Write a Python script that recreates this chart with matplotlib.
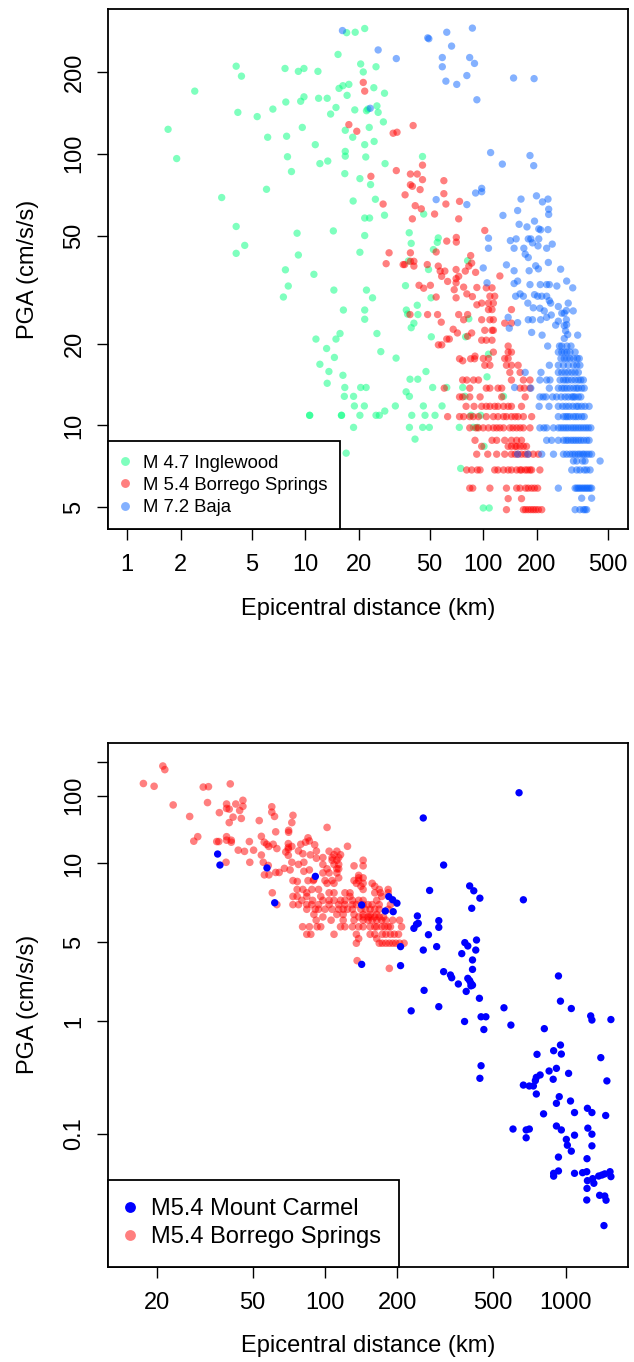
import matplotlib
matplotlib.use("Agg")
import matplotlib.pyplot as plt
from matplotlib.lines import Line2D
from matplotlib.ticker import FixedLocator, FixedFormatter, NullLocator

plt.rcParams['font.family'] = ['Liberation Sans', 'DejaVu Sans']

# ---------------- data: top panel ----------------
# M 4.7 Inglewood (epicentral distance km, PGA cm/s/s)
inglewood = [
    (1.70, 123), (1.90, 96), (2.40, 170), (3.40, 69), (4.10, 210), (4.39, 193), (4.19, 142), (4.10, 54), (4.58, 46), (4.10, 43),
    (5.38, 137), (6.07, 74), (6.16, 115), (6.59, 146), (7.71, 206), (7.79, 155), (7.87, 116), (7.96, 97.5), (8.38, 86), (9.01, 51),
    (9.16, 42.4), (9.16, 201), (9.85, 206), (9.44, 156), (9.85, 162), (9.64, 125), (11.4, 108), (11.8, 201), (11.9, 160), (12.1, 92),
    (13.4, 94), (13.3, 160), (13.9, 140), (14.9, 148), (14.4, 52), (15.3, 232), (15.5, 174), (16.3, 178), (17.6, 180), (17.2, 164),
    (16.8, 122), (16.8, 102), (16.8, 98), (16.7, 84.5), (17.1, 279), (19.1, 280), (21.6, 289), (18.5, 115), (19.0, 145), (20.5, 214),
    (21.2, 200), (20.3, 81), (18.6, 67), (20.3, 43.4), (21.6, 108), (21.9, 97.3), (21.6, 58), (21.6, 50), (22.1, 144), (22.5, 146),
    (22.9, 125), (23.3, 77), (23.0, 58), (24.3, 175), (24.4, 111), (24.8, 68), (25.0, 209), (25.3, 150), (25.7, 142), (27.5, 131),
    (27.9, 167), (28.1, 92), (27.9, 59.4), (45.6, 97.7), (38.4, 51.2), (39.4, 46.8), (46.3, 60), (55.9, 49), (55.2, 47.2), (52.5, 44.4),
    (81.7, 40.4), (38.0, 40.3), (49.3, 37.5), (50.9, 29.5), (36.6, 32.7), (11.5, 20.8), (14.9, 20.8), (15.7, 21.8), (25.3, 21.8), (16.4, 26.6),
    (21.6, 26.6), (21.6, 24.6), (22.1, 31.5), (23.9, 29.5), (14.5, 31.5), (11.2, 36.0), (8.04, 32.6), (7.55, 29.7), (7.75, 37.4), (39.4, 22.9),
    (40.8, 23.8), (42.6, 27.7), (37.0, 26.6), (37.6, 25.7), (43.0, 25.6), (51.1, 21.2), (79.6, 21.2), (83.0, 24.7),
    (13.2, 19.2), (14.6, 17.8), (12.1, 16.8), (13.6, 15.8), (13.3, 14.3), (10.6, 10.9), (10.6, 10.9),
    (26.6, 18.7), (32.4, 17.7), (47.7, 15.8), (38.8, 14.8), (42.9, 14.8), (52.0, 13.8), (62.4, 13.8), (36.9, 13.3), (38.5, 12.8), (16.7, 13.8),
    (20.5, 13.8), (22.0, 13.8), (18.7, 12.8), (16.6, 12.8), (18.9, 11.8), (21.5, 11.8), (32.1, 11.8), (46.1, 11.8), (58.7, 11.8), (39.7, 10.9),
    (47.1, 10.9), (53.6, 10.9), (28.0, 11.3), (25.0, 10.9), (26.1, 10.9), (16.0, 10.9), (16.0, 10.9), (20.3, 10.9), (18.7, 9.84), (38.5, 9.84),
    (45.7, 9.84), (49.8, 9.84), (73.4, 9.84), (41.4, 8.91), (101, 8.38), (17.0, 7.91), (74.7, 6.95), (100, 4.97), (108, 4.97), (88.0, 9.84),
    (92.7, 9.84), (85.4, 10.9), (96.8, 10.9), (79.0, 12.8), (130, 12.8), (76.7, 13.8), (16.3, 15.3), (105, 15.1), (107, 18.3),
]

# M 5.4 Borrego Springs: scattered stations
borrego_points = [
    (21.2, 183), (21.6, 170), (17.6, 128), (19.5, 121), (31.2, 119), (32.8, 120), (40.4, 127), (23.4, 82.6), (32.5, 86.7), (39.0, 84.2),
    (42.6, 84.2), (45.6, 90.8), (45.6, 80.3), (39.0, 76.9), (40.0, 75.9), (44.2, 73.8), (36.4, 70.6), (27.4, 65.3), (41.5, 64.4), (44.9, 62.7),
    (40.0, 57.6), (53.3, 60.0), (60.1, 79.6), (60.1, 71.3), (61.7, 65.3), (73.6, 66.8), (72.8, 57.6), (62.4, 47.7), (70.6, 49.2), (70.6, 47.3),
    (29.6, 43.2), (28.5, 39.4), (35.5, 39.1), (36.2, 39.1), (39.0, 43.2), (39.0, 40.2), (40.8, 40.2), (40.8, 38.6), (48.5, 39.1), (54.4, 43.5),
    (55.9, 38.6), (57.3, 37.0), (60.9, 37.0), (58.4, 35.4), (70.4, 37.5), (70.4, 34.7), (72.8, 35.4), (79.3, 37.0), (85.0, 42.2), (86.1, 39.6),
    (83.0, 38.6), (90.6, 36.6), (63.1, 33.9), (70.4, 33.5), (68.7, 31.6), (50.5, 32.8), (43.6, 32.8), (46.3, 32.0), (54.4, 29.7), (70.4, 29.5),
    (77.6, 32.3), (80.9, 30.5), (92.1, 32.2), (86.9, 29.8), (92.1, 27.8),
    (38.8, 25.6), (48.7, 25.6), (55.4, 25.6), (72.8, 25.6), (81.7, 25.6), (77.6, 24.5), (58.1, 24.0), (67.8, 22.6), (71.6, 21.9), (86.1, 21.9),
    (81.7, 21.3), (62.4, 20.8), (64.5, 20.8), (56.0, 19.8), (58.5, 19.8), (89.9, 18.0), (73.6, 17.6), (85.0, 17.6), (89.4, 17.6), (76.7, 17.3),
    (98, 20.6), (104, 20.6), (112, 20.6), (102, 22.4), (112, 22.4), (114, 22.4), (132, 23.8), (144, 23.8), (98, 24.5), (109, 24.5),
    (114, 24.5), (107, 26.7), (112, 26.7), (144, 26.7), (98, 28.2), (107, 28.2), (114, 28.2), (109, 29.9), (116, 29.9), (112, 32.1),
    (104, 32.1), (124, 35.5), (102, 52.2), (136, 3.43), (185, 2.93),
]
# Borrego Springs: stations on the quantised PGA levels
borrego_levels = [4.9, 5.38, 5.88, 6.86, 7.84, 8.38, 8.82, 9.8, 10.78, 11.76, 12.74, 13.72, 14.7, 15.68, 16.66, 17.64, 18.62, 19.6]
borrego_level_km = [
    [135, 168, 173, 179, 185, 191, 197, 204, 213],
    [138, 164],
    [84, 87.3, 109, 135, 154, 161, 173, 179, 187, 194, 202],
    [80.7, 86.1, 92.7, 96, 116, 121, 130, 138, 144, 154, 161, 164, 172, 177, 183, 187, 208],
    [91.9, 106, 119, 132, 144, 151, 157, 164, 172, 179, 191, 204],
    [98, 138, 144, 151, 154, 161, 168, 175],
    [89.9, 112, 119, 132, 144, 154, 164],
    [84, 91.1, 94, 100, 107, 114, 119, 124, 130, 141, 147, 154, 161, 168, 183],
    [63.1, 73.6, 77.6, 84, 88, 94, 104, 114, 121, 130, 135, 144, 151, 157, 168, 187],
    [80.1, 88.8, 98, 104, 109, 116, 121, 130, 138, 144, 164],
    [73.6, 76.6, 84, 96, 127, 172],
    [60.4, 84, 104, 109, 121, 127, 161, 170, 183],
    [76.6, 80.9, 88.2, 94, 144, 168, 183],
    [141, 161],
    [102, 109, 135, 144, 157],
    [100, 107, 132, 138],
    [114, 138, 144],
    [138],
]

# M 7.2 Baja: scattered stations
baja_points = [
    (16.2, 284), (23.2, 147), (25.7, 241), (32.5, 224), (48.8, 267), (49.5, 265), (62.4, 280), (66.4, 249), (58.9, 226), (58.9, 209),
    (61.7, 185), (71.0, 180), (80.9, 194), (83.9, 226), (89.3, 215), (86.9, 290), (92.1, 158), (54.4, 67.8), (80.9, 65), (90.6, 71.7),
    (110, 101), (128, 91.6), (183, 98.5), (192, 90.4), (148, 190), (193, 189), (98, 74.6), (98, 72.5), (163, 68.1), (199, 70),
    (215, 66.5), (231, 68.1), (233, 62.5), (233, 59.8), (156, 61.8), (129, 59.3), (159, 55), (194, 56.5), (176, 53.8), (205, 52.9),
    (210, 52.5), (231, 52.6), (107, 48.9), (107, 44.9), (142, 47.9), (153, 48.6), (149, 44.9), (169, 44.9), (179, 48.6), (185, 48.6),
    (189, 47), (205, 48.6), (203, 45.8), (227, 44.9), (244, 46.5), (172, 42.7), (179, 41.5), (135, 39), (149, 37.1), (197, 38.7),
    (204, 37.7), (181, 37.1), (232, 39.8), (272, 37.6), (156, 34), (149, 33.3), (183, 33), (209, 33), (227, 33), (235, 33),
    (259, 32.6), (294, 34), (318, 32.1), (161, 30.5), (152, 29.9), (168, 29.9), (194, 30.3), (202, 29.9), (213, 29.9), (227, 29.9),
    (235, 28.8), (178, 28.2), (191, 27.1), (239, 28.2), (264, 27.4), (300, 28.2), (293, 26.5), (208, 27), (220, 26.4), (241, 25.5),
    (276, 25.9), (285, 25.9), (320, 26.4), (138, 25), (156, 23.9), (179, 24.5), (189, 24.5), (210, 24.5), (227, 25), (264, 24.2),
    (293, 24.5), (255, 23.4), (285, 23.3), (294, 23.5), (290, 22.3), (187, 22), (214, 21.5), (298, 21.6), (339, 21.5), (285, 20.9),
    (100, 38), (105, 33.5), (140, 22.8), (150, 13.8), (156, 7.84), (178, 7.84), (453, 7.4),
]
baja_levels = [4.9, 5.4, 5.88, 6.86, 7.4, 7.84, 8.82, 9.8, 10.78, 11.76, 12.74, 13.72, 14.7, 15.68, 16.66, 17.64, 18.62, 19.6]
baja_level_km = [
    [328, 349, 365, 373, 381],
    [357, 406],
    [264, 328, 335, 342, 349, 357, 365, 373, 381, 389, 398, 406],
    [314, 335, 349, 369, 381, 398],
    [321, 335, 361, 373],
    [213, 248, 282, 294, 307, 318, 328, 340, 349, 361, 369, 381, 393, 406],
    [227, 242, 264, 282, 292, 300, 311, 321, 331, 342, 353, 366, 381, 393],
    [208, 219, 227, 248, 264, 273, 282, 291, 300, 311, 321, 331, 342, 353, 365, 377, 389, 402],
    [264, 282, 291, 298, 307, 321, 331, 342, 357, 369],
    [206, 234, 264, 279, 291, 303, 318, 333, 342, 357, 373, 393],
    [208, 217, 225, 245, 258, 274, 288, 300, 314, 321, 328, 342, 353],
    [185, 235, 264, 276, 285, 295, 307, 321, 333, 342, 357, 369],
    [208, 227, 237, 270, 282, 291, 300, 314, 328, 342, 353, 365],
    [172, 211, 264, 276, 288, 300, 314, 328, 342],
    [235, 264, 282, 300, 321, 335, 349],
    [273, 285, 295, 307, 321, 337, 346],
    [264, 276, 285, 295, 307, 328],
    [230, 268, 276, 295, 311],
]

# ---------------- data: bottom panel ----------------
# M5.4 Mount Carmel (km, PGA)
carmel = [
    (35.8, 30.3), (36.6, 24.2), (57.4, 22.8), (61.8, 11.2), (91.2, 19.2), (142, 3.18), (142, 10.7), (178, 9.46), (184, 12.7), (191, 11.9),
    (199, 11.1), (192, 9.33), (206, 4.57), (206, 3.10), (234, 6.64), (240, 7.21), (244, 7.36), (242, 8.55), (228, 1.23), (256, 63.3),
    (256, 4.26), (258, 1.87), (269, 5.83), (272, 14.4), (291, 4.57), (297, 7.77), (297, 6.78), (297, 1.34), (311, 24.2), (311, 2.74),
    (332, 2.56), (336, 2.42), (358, 2.13), (370, 3.96), (381, 4.96), (386, 1.83), (380, 0.99), (392, 4.63), (392, 2.39), (399, 2.28),
    (404, 2.16), (410, 2.08), (404, 2.05), (399, 15.8), (415, 14.3), (407, 10.0), (410, 3.48), (410, 2.87), (423, 4.26), (426, 5.23),
    (440, 12.3), (438, 1.59), (445, 1.09), (466, 1.09), (457, 0.84), (554, 1.31), (592, 0.92), (640, 106), (667, 11.9), (815, 0.855),
    (933, 2.51), (951, 1.50), (1055, 1.29), (1270, 1.11), (1285, 1.02), (1541, 1.03),
    (951, 0.612), (891, 0.545), (959, 0.509), (760, 0.506), (1399, 0.473), (445, 0.401), (440, 0.310), (853, 0.360), (915, 0.380), (1028, 0.343),
    (887, 0.304), (1483, 0.294), (783, 0.332), (755, 0.316), (748, 0.296), (667, 0.270), (706, 0.265), (734, 0.265), (755, 0.225), (940, 0.213),
    (915, 0.186), (1047, 0.195), (1088, 0.154), (809, 0.150), (1231, 0.168), (1285, 0.154), (1466, 0.145), (604, 0.110), (685, 0.108), (706, 0.110),
    (685, 0.092), (915, 0.117), (959, 0.108), (1088, 0.097), (1006, 0.089), (1016, 0.079), (1236, 0.112), (1285, 0.099), (1285, 0.078), (1055, 0.070),
    (933, 0.062), (1226, 0.060), (891, 0.0445), (891, 0.042), (933, 0.0467), (1088, 0.0445), (1175, 0.0451), (1223, 0.046), (1231, 0.0383), (1294, 0.0399),
    (1309, 0.0363), (1371, 0.0421), (1415, 0.043), (1453, 0.044), (1528, 0.046), (1541, 0.0416), (1226, 0.0327), (1223, 0.0258), (1383, 0.0284), (1453, 0.028),
    (1471, 0.0257), (1442, 0.0153),
]

# axis ticks / labels
top_xticks = [1, 2, 5, 10, 20, 50, 100, 200, 500]
top_yticks = [5, 10, 20, 50, 100, 200]
bot_xticks = [20, 50, 100, 200, 500, 1000]
bot_yticks = [0.1, 1, 5, 25, 100, 200]
bot_yticklabels = ['0.1', '1', '5', '10', '100', '']

labels_top = ['M 4.7 Inglewood', 'M 5.4 Borrego Springs', 'M 7.2 Baja']
labels_bot = ['M5.4 Mount Carmel', 'M5.4 Borrego Springs']

col_green = '#00FF7F'
col_red = '#FF0000'
col_blue = '#0A64FF'
col_navy = '#0000FF'


def expand(points, levels, level_km):
    xs = [p[0] for p in points]
    ys = [p[1] for p in points]
    for lv, kms in zip(levels, level_km):
        xs.extend(kms)
        ys.extend([lv] * len(kms))
    return xs, ys


ing_x = [p[0] for p in inglewood]
ing_y = [p[1] for p in inglewood]
bor_x, bor_y = expand(borrego_points, borrego_levels, borrego_level_km)
baj_x, baj_y = expand(baja_points, baja_levels, baja_level_km)
car_x = [p[0] for p in carmel]
car_y = [p[1] for p in carmel]

FS = 17
fig = plt.figure(figsize=(6.34, 13.62), dpi=100)
ax1 = fig.add_axes([0.1699, 0.6114, 0.8203, 0.3820])
ax2 = fig.add_axes([0.1699, 0.0700, 0.8203, 0.3847])

S = 28
ax1.scatter(ing_x, ing_y, s=S, c=col_green, alpha=0.5, edgecolors='none', zorder=2)
ax1.scatter(bor_x, bor_y, s=S, c=col_red, alpha=0.5, edgecolors='none', zorder=3)
ax1.scatter(baj_x, baj_y, s=S, c=col_blue, alpha=0.5, edgecolors='none', zorder=4)

ax2.scatter(bor_x, bor_y, s=30, c=col_red, alpha=0.5, edgecolors='none', zorder=2)
ax2.scatter(car_x, car_y, s=28, c=col_navy, edgecolors='none', zorder=3)

for ax in (ax1, ax2):
    ax.set_xscale('log')
    ax.set_yscale('log')
    for sp in ax.spines.values():
        sp.set_linewidth(1.3)
    ax.xaxis.set_minor_locator(NullLocator())
    ax.yaxis.set_minor_locator(NullLocator())
    ax.tick_params(axis='both', direction='out', length=8, width=1.0, labelsize=FS)
    ax.tick_params(axis='x', pad=10)
    ax.tick_params(axis='y', pad=8)

ax1.set_xlim(0.779, 648)
ax1.set_ylim(4.15, 341)
ax2.set_xlim(12.51, 1811)
ax2.set_ylim(0.00661, 294.7)

ax1.xaxis.set_major_locator(FixedLocator(top_xticks))
ax1.xaxis.set_major_formatter(FixedFormatter([str(v) for v in top_xticks]))
ax1.yaxis.set_major_locator(FixedLocator(top_yticks))
ax1.yaxis.set_major_formatter(FixedFormatter([str(v) for v in top_yticks]))
ax2.xaxis.set_major_locator(FixedLocator(bot_xticks))
ax2.xaxis.set_major_formatter(FixedFormatter([str(v) for v in bot_xticks]))
ax2.yaxis.set_major_locator(FixedLocator(bot_yticks))
ax2.yaxis.set_major_formatter(FixedFormatter(bot_yticklabels))

for ax in (ax1, ax2):
    for t in ax.get_yticklabels():
        t.set_rotation(90)
        t.set_va('center')

ax1.set_xlabel('Epicentral distance (km)', fontsize=FS, va='center')
ax1.xaxis.set_label_coords(0.5, -0.1540)
ax1.set_ylabel('PGA (cm/s/s)', fontsize=FS, va='center')
ax1.yaxis.set_label_coords(-0.1536, 0.5)
ax2.set_xlabel('Epicentral distance (km)', fontsize=FS, va='center')
ax2.xaxis.set_label_coords(0.5, -0.1522)
ax2.set_ylabel('PGA (cm/s/s)', fontsize=FS, va='center')
ax2.yaxis.set_label_coords(-0.1536, 0.5)

h_top = [Line2D([], [], ls='none', marker='o', markersize=6.4, markeredgewidth=0, color=c, alpha=0.5)
         for c in (col_green, col_red, col_blue)]
leg1 = ax1.legend(h_top, labels_top, loc='lower left', bbox_to_anchor=(0, 0), borderaxespad=0,
                  fontsize=13.3, borderpad=0.72, labelspacing=0.28, handlelength=0.45, handletextpad=0.72,
                  fancybox=False, framealpha=1, edgecolor='black')
leg1.get_frame().set_linewidth(1.3)
leg1.set_zorder(10)

h_bot = [Line2D([], [], ls='none', marker='o', markersize=7.8, markeredgewidth=0, color=col_navy),
         Line2D([], [], ls='none', marker='o', markersize=7.8, markeredgewidth=0, color=col_red, alpha=0.5)]
leg2 = ax2.legend(h_bot, labels_bot, loc='lower left', bbox_to_anchor=(0, 0), borderaxespad=0,
                  fontsize=FS, borderpad=0.78, labelspacing=0.25, handlelength=0.3, handletextpad=0.75,
                  fancybox=False, framealpha=1, edgecolor='black')
leg2.get_frame().set_linewidth(1.3)
leg2.set_zorder(10)

fig.savefig('out.png', dpi=100)
